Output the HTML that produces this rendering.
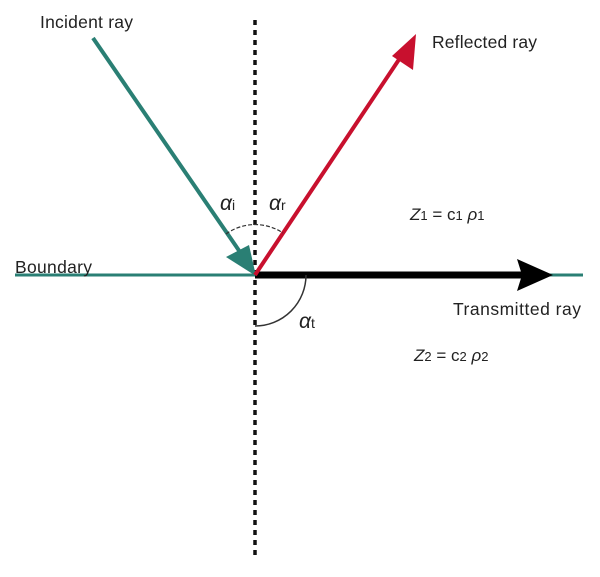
<!DOCTYPE html>
<html><head><style>
html,body{margin:0;padding:0;background:#fff;}
text{font-family:"Liberation Sans",sans-serif;fill:#222;}
</style></head><body>
<svg width="600" height="572" viewBox="0 0 600 572" xmlns="http://www.w3.org/2000/svg">
<line x1="255" y1="20" x2="255" y2="556" stroke="#111" stroke-width="3.5" stroke-dasharray="5,5"/>
<line x1="15" y1="275" x2="583" y2="275" stroke="#2a7f74" stroke-width="3"/>
<line x1="255" y1="275" x2="522" y2="275" stroke="#000" stroke-width="7"/>
<polygon points="553,275 517,259 522,275 517,291" fill="#000"/>
<line x1="93" y1="38" x2="240" y2="252" stroke="#2a7f74" stroke-width="4"/>
<polygon points="256,276 226,257 249,245" fill="#2a7f74"/>
<line x1="255" y1="275" x2="402" y2="55" stroke="#c8102e" stroke-width="4"/>
<polygon points="416,34 413,70 392,56" fill="#c8102e"/>
<path d="M226,234 A50,50 0 0 1 283,233" fill="none" stroke="#333" stroke-width="1.2" stroke-dasharray="4,2"/>
<path d="M306,275 A51,51 0 0 1 255,326" fill="none" stroke="#333" stroke-width="1.5"/>
<text x="40" y="28" font-size="17.5" textLength="93">Incident ray</text>
<text x="432" y="48" font-size="17.5" textLength="105">Reflected ray</text>
<text x="15" y="273" font-size="17.5" textLength="77">Boundary</text>
<text x="453" y="315" font-size="17.5" textLength="128">Transmitted ray</text>
<text x="220" y="210" font-size="21" font-style="italic">α<tspan font-size="14" font-style="normal">i</tspan></text>
<text x="269" y="210" font-size="21" font-style="italic">α<tspan font-size="14" font-style="normal">r</tspan></text>
<text x="299" y="328" font-size="21" font-style="italic">α<tspan font-size="14" font-style="normal">t</tspan></text>
<text x="410" y="220" font-size="17"><tspan font-style="italic">Z</tspan><tspan font-size="13">1</tspan> = c<tspan font-size="13">1</tspan>  <tspan font-style="italic">ρ</tspan><tspan font-size="13">1</tspan></text>
<text x="414" y="361" font-size="17"><tspan font-style="italic">Z</tspan><tspan font-size="13">2</tspan> = c<tspan font-size="13">2</tspan>  <tspan font-style="italic">ρ</tspan><tspan font-size="13">2</tspan></text>
</svg>
</body></html>
